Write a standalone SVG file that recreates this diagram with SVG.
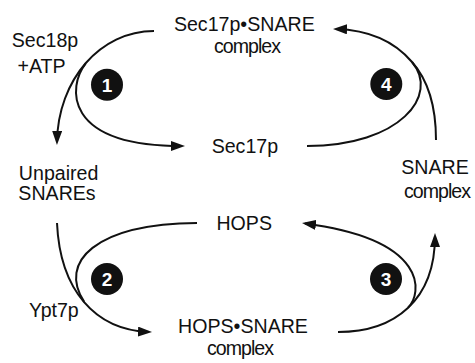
<svg xmlns="http://www.w3.org/2000/svg" width="475" height="363" viewBox="0 0 475 363">
<style>
.t{font-family:"Liberation Sans",Arial,Helvetica,sans-serif;font-size:19.6px;fill:#111;text-anchor:middle}
.k{letter-spacing:-1px}
.c{fill:none;stroke:#111;stroke-width:2}
.b{fill:#111}
.n{font-family:"Liberation Sans",Arial,Helvetica,sans-serif;font-size:19px;font-weight:bold;fill:#fff;text-anchor:middle}
</style>
<defs>
<marker id="ah" viewBox="0 0 14 10" refX="11" refY="5" markerWidth="14" markerHeight="10" markerUnits="userSpaceOnUse" orient="auto">
<path d="M0,0 L14,5 L0,10 Z" fill="#111"/>
</marker>
</defs>
<g id="connectors">
<path class="c" d="M154,31 C100,31 58,80 57,142" marker-end="url(#ah)"/>
<path class="c" d="M85.6,63.6 C68,86 62,146 182,146" marker-end="url(#ah)"/>
<path class="c" d="M436,140 C436,105 428,80 412,62 C395,42 370,30 336,29" marker-end="url(#ah)"/>
<path class="c" d="M307,146 C400,146 440,95 412,62"/>
<path class="c" d="M57,223 C60,290 95,330 149,332" marker-end="url(#ah)"/>
<path class="c" d="M197,223 C95,224 58,262 84.2,301.9"/>
<path class="c" d="M338,332 C395,332 435,300 435,236" marker-end="url(#ah)"/>
<path class="c" d="M408,307.6 C422,294 430,240 305,223.5" marker-end="url(#ah)"/>
</g>
<g id="sec17p-snare">
<text class="t" x="244.3" y="30.5">Sec17p•SNARE</text>
<text class="t k" x="247" y="53">complex</text>
</g>
<g id="sec18p-label">
<text class="t" x="45" y="47.3">Sec18p</text>
<text class="t" x="41.5" y="72.7">+ATP</text>
</g>
<g id="unpaired-snares">
<text class="t" x="58.6" y="180">Unpaired</text>
<text class="t" x="57" y="199.5">SNAREs</text>
</g>
<g id="sec17p">
<text class="t" x="244.9" y="153.3">Sec17p</text>
</g>
<g id="snare-complex">
<text class="t" x="435" y="174">SNARE</text>
<text class="t k" x="437" y="197.7">complex</text>
</g>
<g id="hops">
<text class="t" x="244.2" y="230">HOPS</text>
</g>
<g id="hops-snare">
<text class="t" x="243" y="333.3">HOPS•SNARE</text>
<text class="t k" x="240" y="355">complex</text>
</g>
<g id="ypt7p-label">
<text class="t" x="53.9" y="317.3">Ypt7p</text>
</g>
<g id="step1"><circle class="b" cx="107" cy="84.7" r="16"/><text class="n" x="107" y="91.5">1</text></g>
<g id="step2"><circle class="b" cx="107" cy="279" r="16"/><text class="n" x="107" y="285.8">2</text></g>
<g id="step3"><circle class="b" cx="386" cy="279" r="16"/><text class="n" x="386" y="285.8">3</text></g>
<g id="step4"><circle class="b" cx="386.3" cy="84" r="16"/><text class="n" x="386.3" y="90.8">4</text></g>
</svg>
